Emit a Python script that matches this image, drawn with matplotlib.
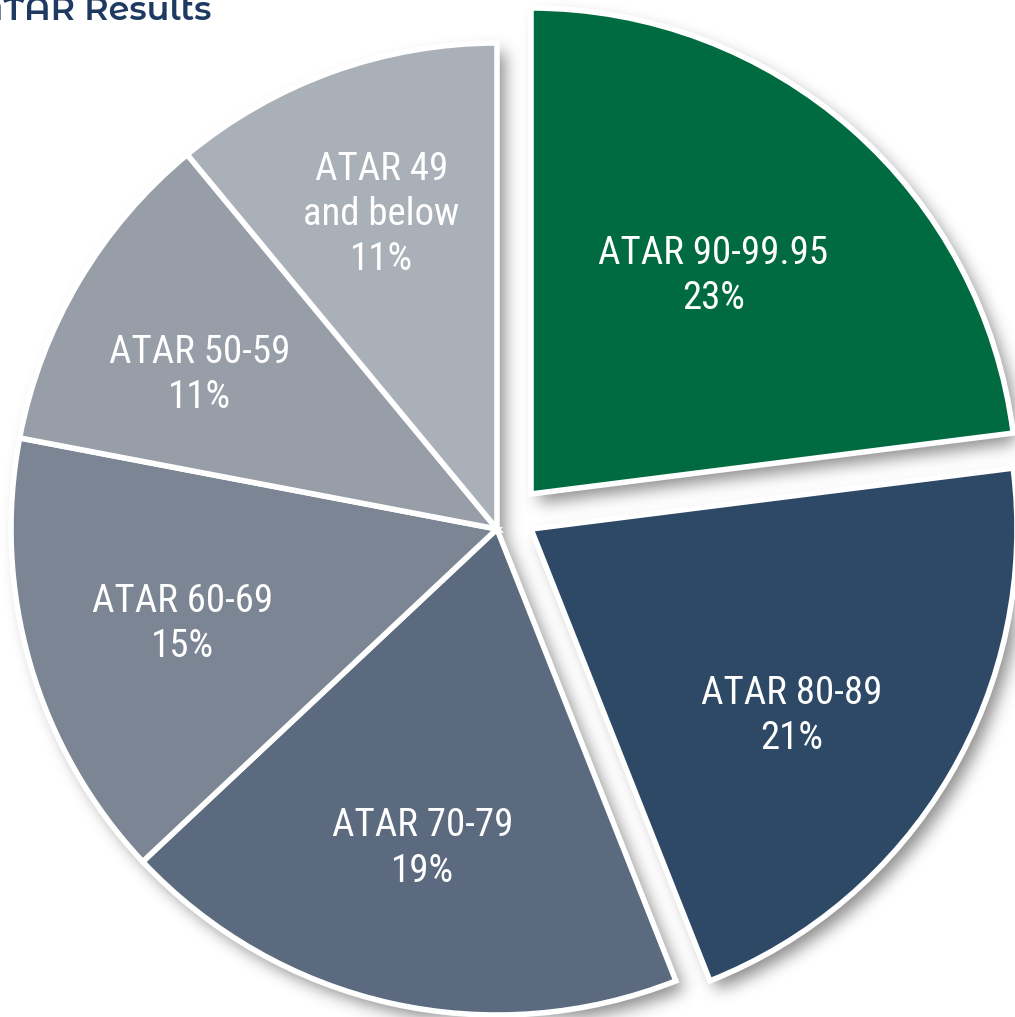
import numpy as np
import matplotlib
matplotlib.use("Agg")
import matplotlib.pyplot as plt

# datos del gráfico
categorias = ["ATAR 90-99.95", "ATAR 80-89", "ATAR 70-79",
              "ATAR 60-69", "ATAR 50-59", "ATAR 49\nand below"]
porcentajes = [23, 21, 19, 15, 11, 11]

# estilos
colores = ["#006B40", "#2E4966", "#5B6A7E", "#7C8593", "#979EA8", "#AAB0B8"]
# desplazamiento (px) de las porciones separadas
desplazamientos = [(34, 35), (34, 0), (0, 0), (0, 0), (0, 0), (0, 0)]
# posición de cada etiqueta: distancia radial relativa y giro (grados)
dist_etiquetas = [0.585, 0.66, 0.675, 0.675, 0.69, 0.69]
giro_etiquetas = [1.5, -5.0, -0.5, 0.6, 3.2, 0.4]

W, H = 1015, 1017
centro = (497, H - 529)
radio = 486

fig = plt.figure(figsize=(W / 100, H / 100), dpi=100)
ax = fig.add_axes([0, 0, 1, 1])

wedges, _ = ax.pie(porcentajes, colors=colores, startangle=90, counterclock=False,
                   center=centro, radius=radio,
                   wedgeprops=dict(edgecolor="white", linewidth=4, zorder=2))

# separa las porciones y coloca las etiquetas
for w, (dx, dy), txt, p, d, g in zip(wedges, desplazamientos, categorias, porcentajes,
                                     dist_etiquetas, giro_etiquetas):
    cx, cy = w.center
    w.set_center((cx + dx, cy + dy))
    ang = np.radians((w.theta1 + w.theta2) / 2 + g)
    x = cx + dx + d * radio * np.cos(ang)
    y = cy + dy + d * radio * np.sin(ang)
    ax.text(x, y, f"{txt}\n{p}%", ha="center", va="center", color="white",
            fontsize=28, linespacing=1.28, zorder=3,
            family=["Roboto Condensed", "DejaVu Sans"])

# sombra difuminada calculada a partir de las porciones
filas, cols = np.mgrid[0:H, 0:W]
xx = cols + 0.5
yy = H - (filas + 0.5)
mascara = np.zeros((H, W))
sx, sy = 8, -9
for w in wedges:
    cx, cy = w.center
    ddx = xx - (cx + sx)
    ddy = yy - (cy + sy)
    ang = np.degrees(np.arctan2(ddy, ddx)) % 360
    span = (w.theta2 - w.theta1) % 360
    dentro = ((ang - w.theta1 % 360) % 360) <= span
    mascara = np.maximum(mascara, ((np.hypot(ddx, ddy) <= w.r) & dentro).astype(float))

sigma = 8
k = np.arange(-3 * sigma, 3 * sigma + 1)
kernel = np.exp(-k ** 2 / (2 * sigma ** 2))
kernel /= kernel.sum()
mascara = np.apply_along_axis(lambda v: np.convolve(v, kernel, mode="same"), 1, mascara)
mascara = np.apply_along_axis(lambda v: np.convolve(v, kernel, mode="same"), 0, mascara)

sombra = np.zeros((H, W, 4))
sombra[..., 3] = mascara * 0.45
ax.imshow(sombra, extent=(0, W, 0, H), origin="upper", zorder=1, aspect="auto")

ax.set_xlim(0, W)
ax.set_ylim(0, H)
ax.axis("off")

fig.text(211 / W, 1 - 20 / H, "ATAR Results", ha="right", va="baseline",
         fontsize=24, color="#1F3A60", family=["Montserrat Alternates", "DejaVu Sans"],
         weight=600)

fig.savefig("out.png", dpi=100, facecolor="white")
